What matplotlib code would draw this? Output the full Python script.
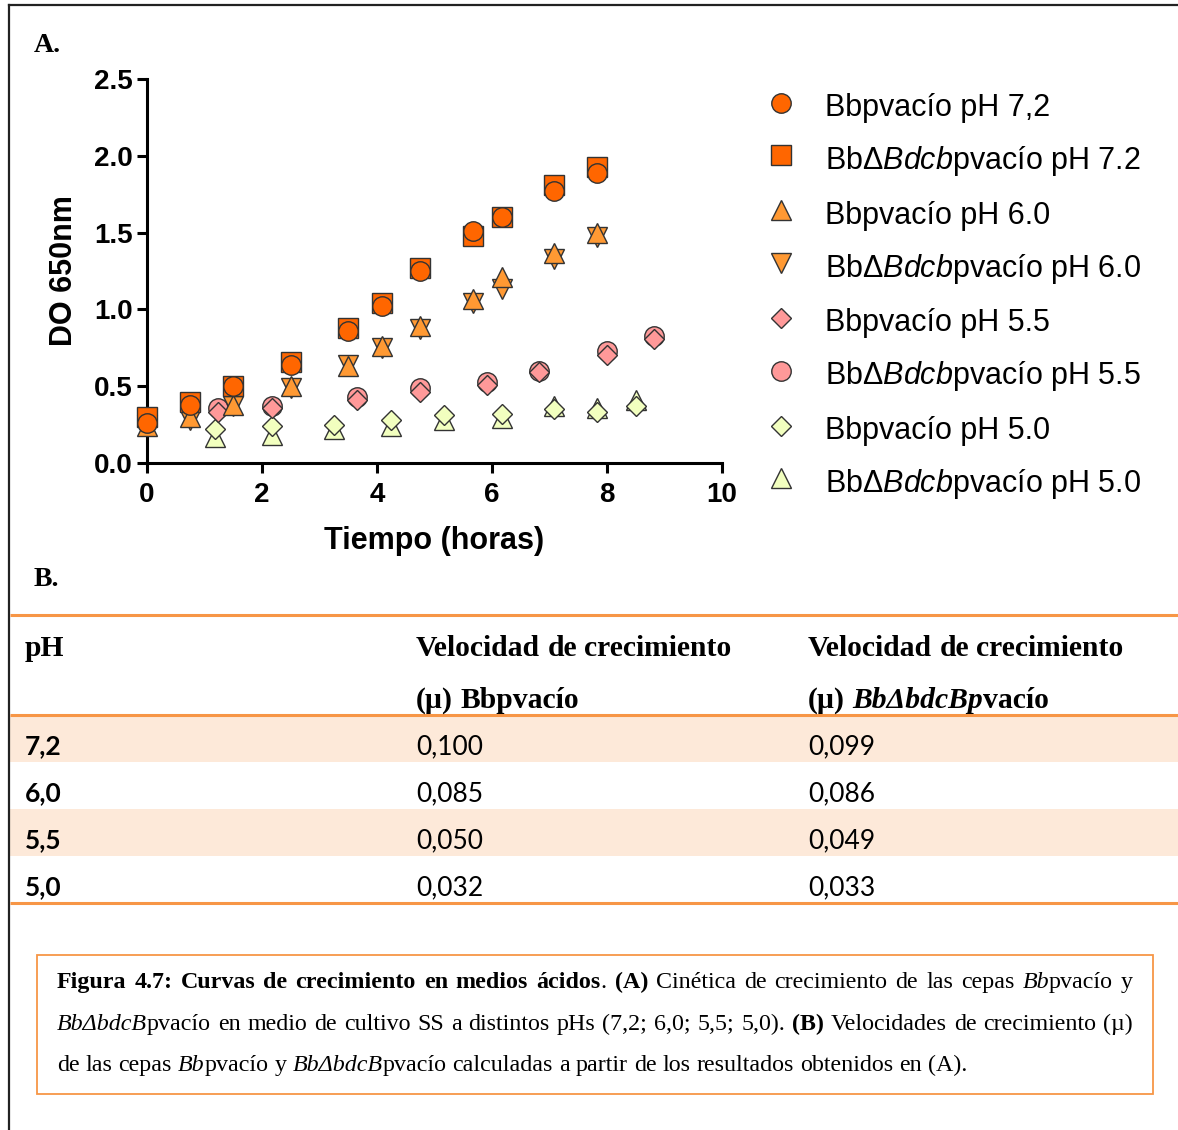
import matplotlib
matplotlib.use('Agg')
import matplotlib.pyplot as plt
from matplotlib.lines import Line2D

plt.rcParams['font.family'] = ['Liberation Sans', 'DejaVu Sans']
plt.rcParams['mathtext.fontset'] = 'custom'
plt.rcParams['mathtext.rm'] = 'Liberation Sans'
plt.rcParams['mathtext.it'] = 'Liberation Sans:italic'
plt.rcParams['mathtext.bf'] = 'Liberation Sans:bold'

# 生长曲线数据（DO 650nm）
t_72 = [0, 0.75, 1.5, 2.5, 3.5, 4.08, 4.75, 5.67, 6.17, 7.08, 7.83]
bb_72 = [0.26, 0.38, 0.50, 0.64, 0.86, 1.02, 1.25, 1.51, 1.60, 1.77, 1.89]
dbb_72 = [0.30, 0.40, 0.50, 0.66, 0.88, 1.04, 1.27, 1.48, 1.60, 1.81, 1.93]
t_60 = [0, 0.75, 1.5, 2.5, 3.5, 4.08, 4.75, 5.67, 6.17, 7.08, 7.83]
bb_60 = [0.24, 0.30, 0.38, 0.50, 0.63, 0.76, 0.89, 1.07, 1.21, 1.37, 1.50]
dbb_60 = [0.25, 0.28, 0.37, 0.49, 0.64, 0.75, 0.87, 1.04, 1.13, 1.33, 1.47]
t_55 = [1.24, 2.17, 3.66, 4.75, 5.92, 6.82, 8.0, 8.82]
bb_55 = [0.33, 0.36, 0.41, 0.46, 0.51, 0.59, 0.70, 0.81]
dbb_55 = [0.36, 0.37, 0.43, 0.49, 0.53, 0.60, 0.73, 0.83]
t_50 = [1.18, 2.17, 3.25, 4.25, 5.17, 6.17, 7.08, 7.83, 8.5]
bb_50 = [0.22, 0.24, 0.25, 0.28, 0.31, 0.32, 0.35, 0.33, 0.37]
dbb_50 = [0.17, 0.18, 0.22, 0.24, 0.28, 0.29, 0.37, 0.36, 0.41]

labels = ['Bbpvacío pH 7,2', r'BbΔ$\mathit{Bdcb}$pvacío pH 7.2',
          'Bbpvacío pH 6.0', r'BbΔ$\mathit{Bdcb}$pvacío pH 6.0',
          'Bbpvacío pH 5.5', r'BbΔ$\mathit{Bdcb}$pvacío pH 5.5',
          'Bbpvacío pH 5.0', r'BbΔ$\mathit{Bdcb}$pvacío pH 5.0']

# 生长速率表
ph_rows = ['7,2', '6,0', '5,5', '5,0']
mu_bb = [0.100, 0.085, 0.050, 0.032]
mu_dbb = [0.099, 0.086, 0.049, 0.033]

fig = plt.figure(figsize=(11.78, 11.30), dpi=100)

# 整页的像素坐标图层（边框、表格、图注）
lay = fig.add_axes([0, 0, 1, 1])
lay.set_xlim(0, 1178)
lay.set_ylim(1130, 0)
lay.axis('off')

ax = fig.add_axes([147 / 1178, (1130 - 463) / 1130, 575 / 1178, 384 / 1130])

series = [
    (t_72, bb_72, 'o', '#FF6600', 14),
    (t_72, dbb_72, 's', '#FF6600', 14),
    (t_60, bb_60, '^', '#FF9933', 14),
    (t_60, dbb_60, 'v', '#FF9933', 14),
    (t_55, bb_55, 'D', '#FF9999', 10.5),
    (t_55, dbb_55, 'o', '#FF9999', 14),
    (t_50, bb_50, 'D', '#F2FFBF', 10.5),
    (t_50, dbb_50, '^', '#F2FFBF', 14),
]
handles = []
for i, (x, y, m, c, ms) in enumerate(series):
    ax.plot(x, y, ls='none', marker=m, ms=ms, mfc=c, mec='#333333', mew=1.0,
            clip_on=False, zorder=20 - i)
    handles.append(Line2D([], [], ls='none', marker=m, ms=ms, mfc=c,
                          mec='#333333', mew=1.0))

ax.set_xlim(0, 10)
ax.set_ylim(0, 2.5)
ax.set_xticks([0, 2, 4, 6, 8, 10])
ax.set_yticks([0, 0.5, 1.0, 1.5, 2.0, 2.5])
ax.set_yticklabels(['0.0', '0.5', '1.0', '1.5', '2.0', '2.5'])
for s in ['top', 'right']:
    ax.spines[s].set_visible(False)
for s in ['left', 'bottom']:
    ax.spines[s].set_linewidth(2.2)
ax.tick_params(direction='out', length=7, width=2.2, labelsize=20)
ax.tick_params(axis='x', pad=7)
ax.tick_params(axis='y', pad=3)
for lb in ax.get_xticklabels() + ax.get_yticklabels():
    lb.set_fontweight('bold')
ax.set_xlabel('Tiempo (horas)', fontsize=22, fontweight='bold')
ax.set_ylabel('DO 650nm', fontsize=22, fontweight='bold')
ax.xaxis.set_label_coords(0.5, -0.165)
ax.yaxis.set_label_coords(-0.118, 0.5)

fig.legend(handles, labels, loc='center left', bbox_to_anchor=(766 / 1178, 1 - 295 / 1130),
           frameon=False, fontsize=22, handlelength=1.0, handleheight=1.3,
           handletextpad=0.94, labelspacing=0.62, borderpad=0, borderaxespad=0)

# 外框
lay.plot([9, 9], [5, 1130], color='#222222', lw=1.6)
lay.plot([9, 1178], [5, 5], color='#222222', lw=1.6)

lay.text(34, 52, 'A.', fontsize=20, fontweight='bold', family='Liberation Serif', va='baseline')
lay.text(34, 586, 'B.', fontsize=20, fontweight='bold', family='Liberation Serif', va='baseline')

renderer = fig.canvas.get_renderer()


def split_words(runs):
    words = [[]]
    for txt, st in runs:
        parts = txt.split(' ')
        for k, p in enumerate(parts):
            if k > 0:
                words.append([])
            if p:
                words[-1].append((p, st))
    return [w for w in words if w]


def draw_runs(x0, y, runs, size, family='Liberation Serif', width=None):
    words = split_words(runs)
    placed = []
    for word in words:
        pieces = []
        w = 0
        for txt, st in word:
            t = lay.text(0, y, txt, fontsize=size, family=family, va='baseline',
                         fontweight='bold' if 'b' in st else 'normal',
                         fontstyle='italic' if 'i' in st else 'normal')
            pieces.append((t, w))
            w += t.get_window_extent(renderer).width
        placed.append((pieces, w))
    total = sum(w for _, w in placed)
    if width is not None and len(placed) > 1:
        gap = (width - total) / (len(placed) - 1)
    else:
        gap = 0.25 * size * 100 / 72
    x = x0
    for pieces, w in placed:
        for t, off in pieces:
            t.set_x(x + off)
        x += w + gap


# 表格
orange = '#F79646'
lay.axhspan(715, 762, xmin=10 / 1178, xmax=1, color='#FDE9D9', lw=0)
lay.axhspan(808.5, 855.5, xmin=10 / 1178, xmax=1, color='#FDE9D9', lw=0)
for yy in [615, 715, 903]:
    lay.plot([10, 1178], [yy, yy], color=orange, lw=2.2, solid_capstyle='butt')

draw_runs(25, 656, [('pH', 'b')], 21.3)
draw_runs(416, 656, [('Velocidad de crecimiento', 'b')], 21.3)
draw_runs(808, 656, [('Velocidad de crecimiento', 'b')], 21.3)
draw_runs(416, 708, [('(µ) Bbpvacío', 'b')], 21.3)
draw_runs(808, 708, [('(µ) ', 'b'), ('BbΔbdcBp', 'bi'), ('vacío', 'b')], 21.3)

for k in range(len(ph_rows)):
    yb = 754 + 47 * k
    lay.text(25, yb, ph_rows[k], fontsize=19, family='Lato', fontweight='bold', va='baseline')
    lay.text(416, yb, f'{mu_bb[k]:.3f}'.replace('.', ','), fontsize=19, family='Lato', va='baseline')
    lay.text(808, yb, f'{mu_dbb[k]:.3f}'.replace('.', ','), fontsize=19, family='Lato', va='baseline')

# 图注
lay.add_patch(plt.Rectangle((37, 955), 1116, 139, fill=False, ec=orange, lw=1.3))
cap1 = [('Figura 4.7: Curvas de crecimiento en medios ácidos', 'b'), ('. ', 'r'), ('(A)', 'b'),
        (' Cinética de crecimiento de las cepas ', 'r'), ('Bb', 'i'), ('pvacío y', 'r')]
cap2 = [('BbΔbdcB', 'i'), ('pvacío en medio de cultivo SS a distintos pHs (7,2; 6,0; 5,5; 5,0). ', 'r'),
        ('(B)', 'b'), (' Velocidades de crecimiento (µ)', 'r')]
cap3 = [('de las cepas ', 'r'), ('Bb', 'i'), ('pvacío y ', 'r'), ('BbΔbdcB', 'i'),
        ('pvacío calculadas a partir de los resultados obtenidos en (A).', 'r')]
draw_runs(57, 988, cap1, 17.3, width=1076)
draw_runs(57, 1030, cap2, 17.3, width=1076)
draw_runs(57, 1071, cap3, 17.3)

fig.savefig('out.png', dpi=100)
